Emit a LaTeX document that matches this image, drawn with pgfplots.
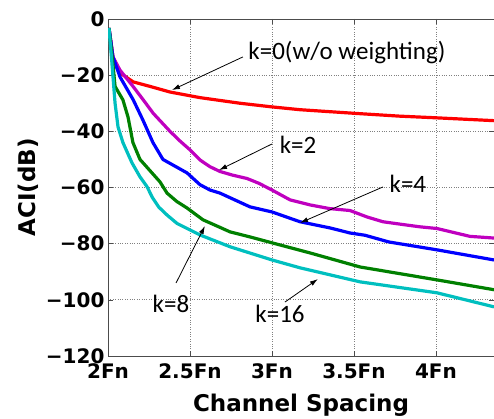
\documentclass[border=0pt]{standalone}
\usepackage{fontspec}
\setmainfont{DejaVu Sans}
\newfontfamily\annfont{Carlito}
\usepackage{pgfplots}
\pgfplotsset{compat=1.18}
\usetikzlibrary{arrows.meta}

\definecolor{kzero}{rgb}{1,0,0}
\definecolor{ktwo}{rgb}{0.75,0,0.75}
\definecolor{kfour}{rgb}{0,0,1}
\definecolor{keight}{rgb}{0,0.5,0}
\definecolor{ksixteen}{rgb}{0,0.75,0.75}

\begin{document}
\begin{tikzpicture}
\begin{axis}[
    name=main,
    scale only axis,
    width=386pt, height=337pt,
    xmin=2, xmax=4.354, ymin=-120, ymax=0,
    xtick={2,2.5,3,3.5,4},
    xticklabels={2Fn,2.5Fn,3Fn,3.5Fn,4Fn},
    ytick={-120,-100,-80,-60,-40,-20,0},
    yticklabels={−120,−100,−80,−60,−40,−20,0},
    tick align=inside,
    major tick length=5pt,
    grid=major,
    grid style={dotted, black!50, line width=0.7pt},
    axis line style={black!70, line width=0.8pt},
    tick style={black!70, line width=0.6pt},
    ticklabel style={font=\bfseries\fontsize{20}{20}\selectfont},
    xticklabel style={yshift=-4pt},
    xlabel={Channel Spacing},
    ylabel={ACI(dB)},
    every axis x label/.style={at={(axis description cs:0.5,-0.145)}, anchor=center,
        font=\bfseries\fontsize{23}{23}\selectfont},
    every axis y label/.style={at={(axis description cs:-0.207,0.5)}, rotate=90, anchor=center,
        font=\bfseries\fontsize{23}{23}\selectfont},
    every axis plot/.append style={line width=3.2pt, line join=round},
]

% k=0 (w/o weighting)
\addplot[kzero] coordinates {
  (2.006,-3.2) (2.030,-13.5) (2.073,-19.2) (2.154,-22.4) (2.256,-24)
  (2.378,-26) (2.561,-28) (2.805,-30) (3.0,-31.3) (3.171,-32.3)
  (3.506,-33.6) (3.78,-34.6) (4.006,-35.2) (4.354,-36.2)};
% k=2
\addplot[ktwo] coordinates {
  (2.006,-3.2) (2.030,-13.5) (2.073,-18.2) (2.154,-24.1) (2.215,-28.8)
  (2.276,-33.6) (2.378,-40) (2.44,-43.5) (2.5,-46.6) (2.561,-50.2)
  (2.622,-52.6) (2.683,-54.3) (2.76,-55.6) (2.848,-56.8) (2.92,-58.5)
  (3.0,-60.9) (3.11,-64.4) (3.232,-66.2) (3.35,-67.5) (3.476,-68.2)
  (3.58,-70.5) (3.677,-72.2) (3.80,-73.2) (3.902,-74) (4.006,-74.6)
  (4.207,-77.4) (4.354,-78)};
% k=4
\addplot[kfour] coordinates {
  (2.006,-3.2) (2.030,-13.5) (2.073,-20.6) (2.154,-28.8) (2.213,-36)
  (2.274,-44) (2.335,-50) (2.396,-52) (2.482,-54.8) (2.561,-59)
  (2.622,-60.9) (2.683,-62) (2.866,-66.9) (3.0,-68.7) (3.171,-72.2)
  (3.354,-74.4) (3.476,-76.2) (3.567,-77) (3.713,-79.4) (4.006,-82.2)
  (4.354,-85.8)};
% k=8
\addplot[keight] coordinates {
  (2.006,-3.2) (2.030,-16) (2.043,-24) (2.091,-28.8) (2.122,-34.9)
  (2.152,-44) (2.195,-50) (2.256,-54) (2.317,-58) (2.36,-62)
  (2.42,-65) (2.482,-67.3) (2.579,-71.5) (2.683,-74.2) (2.744,-75.8)
  (2.866,-77.6) (3.0,-79.7) (3.232,-83.3) (3.537,-88.3) (4.006,-92.9)
  (4.354,-96.4)};
% k=16
\addplot[ksixteen] coordinates {
  (2.006,-3.2) (2.024,-15.7) (2.043,-30) (2.061,-38.4) (2.091,-44)
  (2.146,-51.2) (2.195,-56.2) (2.238,-59.7) (2.27,-63.5) (2.31,-67)
  (2.36,-69.8) (2.421,-72.8) (2.561,-76.9) (2.744,-81.1) (3.0,-85.8)
  (3.171,-88.6) (3.537,-93.6) (4.006,-97.5) (4.354,-102.5)};

% annotations
\tikzset{ann/.style={font=\annfont\fontsize{25}{25}\selectfont, inner sep=0pt},
         arr/.style={black, line width=0.8pt, -{Latex[length=8pt,width=5pt]}}}
\node[ann] at (axis cs:3.457,-12.1) {k=0(w/o weighting)};
\draw[arr] (axis cs:2.823,-13.5) -- (axis cs:2.39,-25.3);
\node[ann] at (axis cs:3.159,-44.9) {k=2};
\draw[arr] (axis cs:3.0,-44.5) -- (axis cs:2.677,-53.8);
\node[ann] at (axis cs:3.829,-58.8) {k=4};
\draw[arr] (axis cs:3.677,-59.8) -- (axis cs:3.171,-72.6);
\node[ann] at (axis cs:2.384,-101.5) {k=8};
\draw[arr] (axis cs:2.415,-94) -- (axis cs:2.591,-73.7);
\node[ann] at (axis cs:3.049,-105) {k=16};
\draw[arr] (axis cs:3.079,-100.8) -- (axis cs:3.28,-92.6);
\end{axis}
\pgfresetboundingbox
\useasboundingbox ([shift={(-108pt,-63pt)}]main.south west) rectangle ([shift={(0pt,19pt)}]main.north east);
\end{tikzpicture}
\end{document}
